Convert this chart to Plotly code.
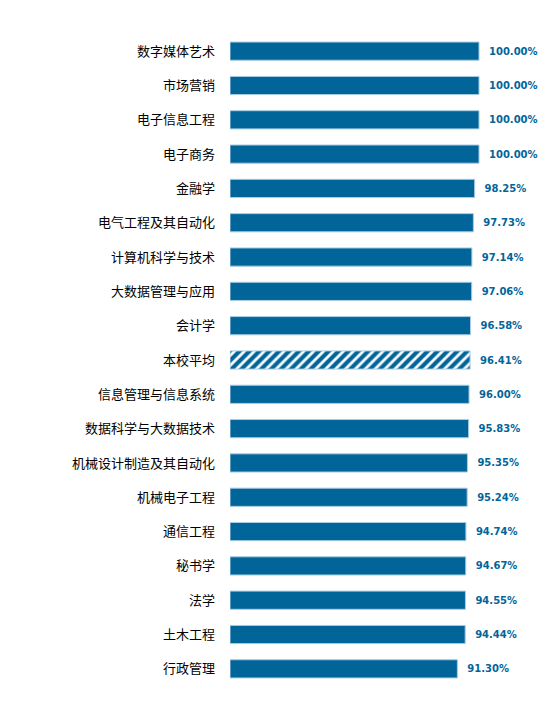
import plotly.graph_objects as go

# majors and employment rates (%), top to bottom
majors = ['数字媒体艺术', '市场营销', '电子信息工程', '电子商务', '金融学',
          '电气工程及其自动化', '计算机科学与技术', '大数据管理与应用', '会计学',
          '本校平均', '信息管理与信息系统', '数据科学与大数据技术',
          '机械设计制造及其自动化', '机械电子工程', '通信工程', '秘书学',
          '法学', '土木工程', '行政管理']
rates = [100.00, 100.00, 100.00, 100.00, 98.25, 97.73, 97.14, 97.06, 96.58,
         96.41, 96.00, 95.83, 95.35, 95.24, 94.74, 94.67, 94.55, 94.44, 91.30]

avg_name = '本校平均'
blue = '#02659a'

shapes = ['/' if m == avg_name else '' for m in majors]

fig = go.Figure()
fig.add_trace(go.Bar(
    y=majors,
    x=rates,
    orientation='h',
    marker=dict(
        color=blue,
        line=dict(color='#a9cce3', width=1),
        pattern=dict(shape=shapes, fgcolor=blue, bgcolor='white',
                     fgopacity=1, size=7, solidity=0.6),
    ),
    # nbsp pads the label away from the bar end
    text=['\u00a0\u00a0%.2f%%' % r for r in rates],
    textposition='outside',
    textfont=dict(family='DejaVu Sans', size=10, color=blue, weight='bold'),
    cliponaxis=False,
    hoverinfo='skip',
))

# page body adds an 8px offset, so the figure is drawn a bit smaller
fig.update_layout(
    width=540, height=696,
    margin=dict(l=222, r=0, t=26, b=18),
    paper_bgcolor='white',
    plot_bgcolor='white',
    showlegend=False,
    bargap=0.47,
    xaxis=dict(range=[0, 127.7], visible=False, fixedrange=True),
    yaxis=dict(
        categoryorder='array',
        categoryarray=majors[::-1],
        showgrid=False, zeroline=False, showline=False,
        ticks='', ticklabelstandoff=14,
        tickfont=dict(family='Noto Sans CJK SC', size=13, color='black'),
    ),
)

fig.write_html('out.html')
